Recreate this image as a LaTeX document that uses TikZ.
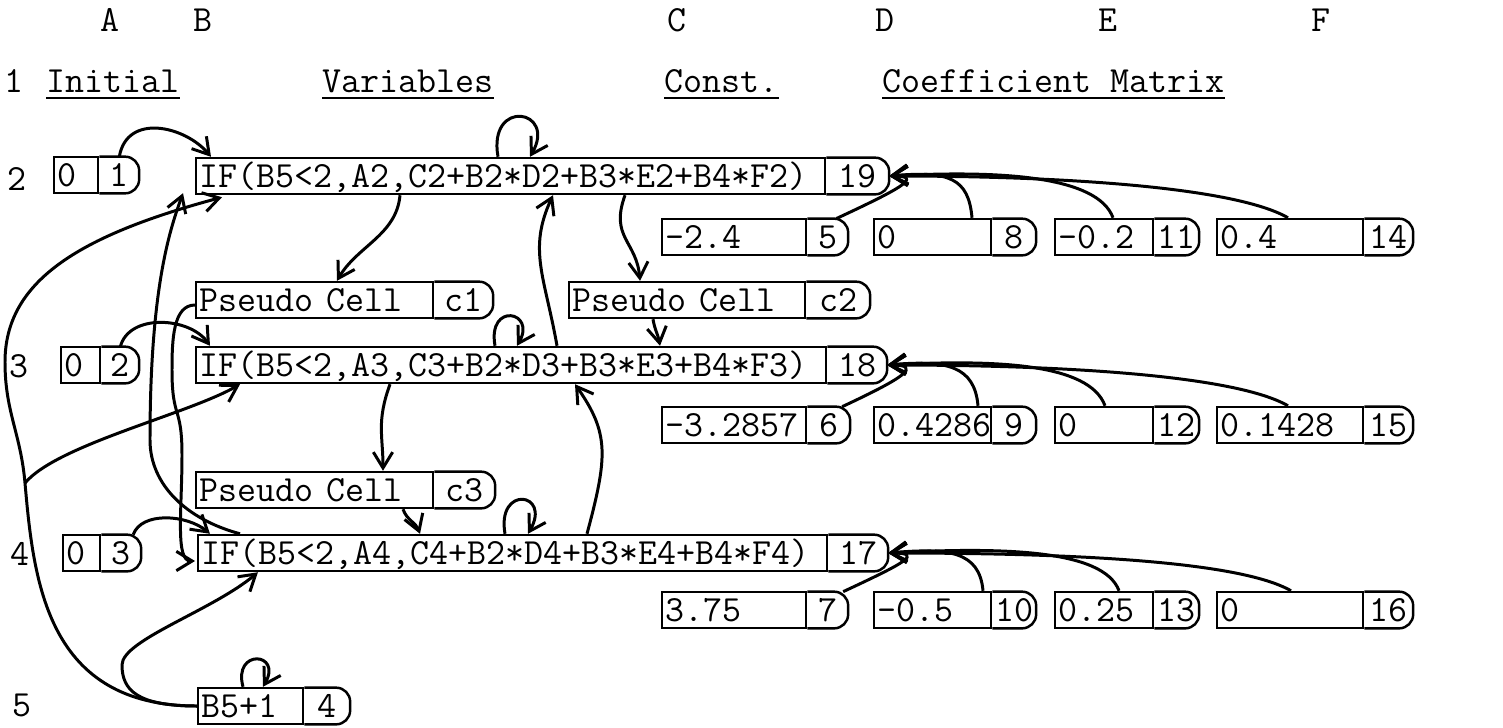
\documentclass[tikz,border=0pt]{standalone}
\usetikzlibrary{calc}
\usetikzlibrary{arrows.meta}

\newcommand{\cellfont}{\fontsize{21}{24}\selectfont\ttfamily}

\tikzset{
  valbox/.style={draw, line width=1.4pt, anchor=west, inner xsep=2pt, inner ysep=0pt,
    minimum height=0.72cm, text height=12.8pt, text depth=0pt, align=left, font=\cellfont},
  numbox/.style={anchor=west, inner xsep=1pt, inner ysep=0pt, minimum height=0.72cm,
    text height=12.8pt, text depth=0pt, align=center, font=\cellfont},
  rim/.style={line width=1.4pt, rounded corners=8pt},
  wire/.style={->, line width=1.7pt},
  hdr/.style={font=\cellfont, inner sep=0pt},
  uline/.style={line width=1.4pt},
}

% one sheet cell: name, left, divider, right, y, value, number
\newcommand{\sheetcell}[7]{%
  \pgfmathsetlengthmacro\valw{(#3-#2)*0.02cm-4pt}%
  \pgfmathsetlengthmacro\numw{(#4-#3)*0.02cm-2pt}%
  \node[valbox, text width=\valw] (#1) at (#2,#5) {#6};
  \node[numbox, text width=\numw] (#1n) at (#1.east) {#7};
  \draw[rim] (#1n.north west) -- (#1n.north east) -- (#1n.south east) -- (#1n.south west);
}

\begin{document}
\begin{tikzpicture}[x=0.02cm, y=0.02cm, >={Straight Barb[length=9pt,width=11pt]}]

% white background
\fill[white] (0,0) rectangle (1503,-727);
\useasboundingbox (0,0) rectangle (1503,-727);

% column letters
\node[hdr, anchor=base] (colA) at (110,-31) {A};
\node[hdr, anchor=base] (colB) at (203,-31) {B};
\node[hdr, anchor=base] (colC) at (677,-31) {C};
\node[hdr, anchor=base] (colD) at (885,-31) {D};
\node[hdr, anchor=base] (colE) at (1108,-31) {E};
\node[hdr, anchor=base] (colF) at (1321,-31) {F};

% row 1: headings
\node[hdr, anchor=base west] (r1) at (4,-92) {1};
\node[hdr, anchor=base west] (hinit) at (46,-92) {Initial};
\node[hdr, anchor=base west] (hvar) at (322,-92) {Variables};
\node[hdr, anchor=base west] (hconst) at (664,-92) {Const.};
\node[hdr, anchor=base west] (hcoef) at (882,-92) {Coefficient Matrix};
\draw[uline] ($(hinit.base west)+(0,-6)$) -- ($(hinit.base east)+(0,-6)$);
\draw[uline] ($(hvar.base west)+(0,-6)$) -- ($(hvar.base east)+(0,-6)$);
\draw[uline] ($(hconst.base west)+(0,-6)$) -- ($(hconst.base east)+(0,-6)$);
\draw[uline] ($(hcoef.base west)+(0,-6)$) -- ($(hcoef.base east)+(0,-6)$);

% row labels
\node[hdr, anchor=base] (r2) at (17,-190) {2};
\node[hdr, anchor=base] (r3) at (19,-377) {3};
\node[hdr, anchor=base] (r4) at (20,-565) {4};
\node[hdr, anchor=base] (r5) at (22,-716) {5};

% row 2
\sheetcell{a2}{53}{97}{136}{-175}{0}{1}
\sheetcell{b2}{195}{824}{886}{-176}{IF(B5<2,A2,C2+B2*D2+B3*E2+B4*F2)}{19}
\sheetcell{c2}{661}{805}{845}{-237}{-2.4}{5}
\sheetcell{d2}{873}{990}{1033}{-237}{0}{8}
\sheetcell{e2}{1054}{1152}{1196}{-237}{-0.2}{11}
\sheetcell{f2}{1216}{1362}{1410}{-237}{0.4}{14}

% pseudo cells
\sheetcell{p1}{195}{432}{490}{-300}{Pseudo Cell}{c1}
\sheetcell{p2}{568}{804}{867}{-300}{Pseudo Cell}{c2}

% row 3
\sheetcell{a3}{60}{99}{136}{-365}{0}{2}
\sheetcell{b3}{195}{825}{884}{-365}{IF(B5<2,A3,C3+B2*D3+B3*E3+B4*F3)}{18}
\sheetcell{c3}{661}{805}{847}{-425}{-3.2857}{6}
\sheetcell{d3}{873}{990}{1033}{-425}{0.4286}{9}
\sheetcell{e3}{1054}{1152}{1196}{-425}{0}{12}
\sheetcell{f3}{1216}{1362}{1410}{-425}{0.1428}{15}

\sheetcell{p3}{195}{432}{492}{-490}{Pseudo Cell}{c3}

% row 4
\sheetcell{a4}{62}{99}{138}{-553}{0}{3}
\sheetcell{b4}{197}{826}{885}{-553}{IF(B5<2,A4,C4+B2*D4+B3*E4+B4*F4)}{17}
\sheetcell{c4}{661}{805}{845}{-610}{3.75}{7}
\sheetcell{d4}{873}{990}{1033}{-610}{-0.5}{10}
\sheetcell{e4}{1054}{1152}{1196}{-610}{0.25}{13}
\sheetcell{f4}{1216}{1362}{1410}{-610}{0}{16}

% row 5
\sheetcell{b5}{197}{302}{347}{-706}{B5+1}{4}

% bends of the long links
\coordinate (fork) at (25,-483);
\coordinate (west) at (5,-362);
\coordinate (bendA) at (150,-440);
\coordinate (bendB) at (122,-665);
\coordinate (wig1) at (172,-370);
\coordinate (wig2) at (182,-455);

% row 2 links
\draw[wire] (a2n.north) .. controls +(80:45) and +(130:40) .. ($(b2.north west)+(16,0)$);
\draw[wire] ($(b2.north west)+(303,0)$) .. controls +(100:60) and +(60:55) .. ($(b2.north west)+(335,0)$);
\draw[wire] ($(b2.south west)+(205,0)$) .. controls +(-95:40) and +(60:40) .. ($(p1.north west)+(142,0)$);
\draw[wire] ($(b2.south west)+(430,0)$) .. controls +(250:45) and +(95:40) .. ($(p2.north west)+(72,0)$);
\draw[wire] ($(b3.north west)+(362,0)$) .. controls +(100:70) and +(245:60) .. ($(b2.south west)+(358,0)$);
\draw[wire] ($(c2n.north east)+(-12,0)$) .. controls +(25:70) and +(0:35) .. (b2n.east);
\draw[wire] ($(d2.north west)+(99,0)$) .. controls +(95:40) and +(5:60) .. (b2n.east);
\draw[wire] ($(e2.north west)+(59,0)$) .. controls +(110:45) and +(3:110) .. (b2n.east);
\draw[wire] ($(f2.north west)+(72,0)$) .. controls +(150:60) and +(0:180) .. (b2n.east);

% row 3 links
\draw[wire] (a3n.north) .. controls +(75:35) and +(125:35) .. ($(b3.north west)+(15,0)$);
\draw[wire] ($(b3.north west)+(300,0)$) .. controls +(100:45) and +(60:40) .. ($(b3.north west)+(322,0)$);
\draw[wire] ($(p2.south west)+(85,0)$) .. controls +(-80:12) and +(100:12) .. ($(b3.north west)+(465,0)$);
\draw[wire] ($(b3.south west)+(195,0)$) .. controls +(250:40) and +(90:35) .. ($(p3.north west)+(188,0)$);
\draw[wire] ($(b4.north west)+(390,0)$) .. controls +(75:80) and +(-55:60) .. ($(b3.south west)+(380,0)$);
\draw[wire] ($(c3n.north east)+(-8,0)$) .. controls +(25:70) and +(0:35) .. (b3n.east);
\draw[wire] ($(d3.north west)+(105,0)$) .. controls +(95:40) and +(5:60) .. (b3n.east);
\draw[wire] ($(e3.north west)+(51,0)$) .. controls +(110:45) and +(3:110) .. (b3n.east);
\draw[wire] ($(f3.north west)+(72,0)$) .. controls +(150:60) and +(0:180) .. (b3n.east);

% row 4 links
\draw[wire] ($(a4n.north east)+(-8,0)$) .. controls +(70:25) and +(140:30) .. ($(b4.north west)+(13,0)$);
\draw[wire] ($(b4.north west)+(308,0)$) .. controls +(100:50) and +(60:48) .. ($(b4.north west)+(331,0)$);
\draw[wire] ($(p3.south west)+(208,0)$) .. controls +(-70:12) and +(110:12) .. ($(b4.north west)+(223,0)$);
\draw[wire] ($(b4.north west)+(43,0)$) .. controls +(165:55) and +(-90:45) .. (bendA)
    .. controls +(90:150) and +(250:40) .. ($(b2.south west)+(-12,2)$);
\draw[wire] ($(p1.west)+(0,-5)$) .. controls +(180:22) and +(90:30) .. (wig1)
    .. controls +(-90:50) and +(90:50) .. (wig2)
    .. controls +(-90:55) and +(180:20) .. ($(b4.west)+(-2,-8)$);
\draw[wire] ($(c4n.north east)+(-5,0)$) .. controls +(25:70) and +(0:35) .. (b4n.east);
\draw[wire] ($(d4.north west)+(110,0)$) .. controls +(95:40) and +(5:60) .. (b4n.east);
\draw[wire] ($(e4.north west)+(65,0)$) .. controls +(110:45) and +(3:110) .. (b4n.east);
\draw[wire] ($(f4.north west)+(75,0)$) .. controls +(150:60) and +(0:180) .. (b4n.east);

% row 5 links
\draw[wire] ($(b5.north west)+(46,0)$) .. controls +(105:40) and +(60:40) .. ($(b5.north west)+(66,0)$);
\draw[wire] (b5.west) .. controls +(180:150) and +(-85:100) .. (fork)
    .. controls +(95:50) and +(-90:50) .. (west)
    .. controls +(90:80) and +(195:150) .. ($(b2.south west)+(27,-2)$);
\draw[wire] (fork) .. controls +(50:50) and +(210:60) .. ($(b3.south west)+(45,0)$);
\draw[wire] (b5.west) .. controls +(180:60) and +(-90:25) .. (bendB)
    .. controls +(90:25) and +(220:60) .. ($(b4.south west)+(61,0)$);

\end{tikzpicture}
\end{document}
